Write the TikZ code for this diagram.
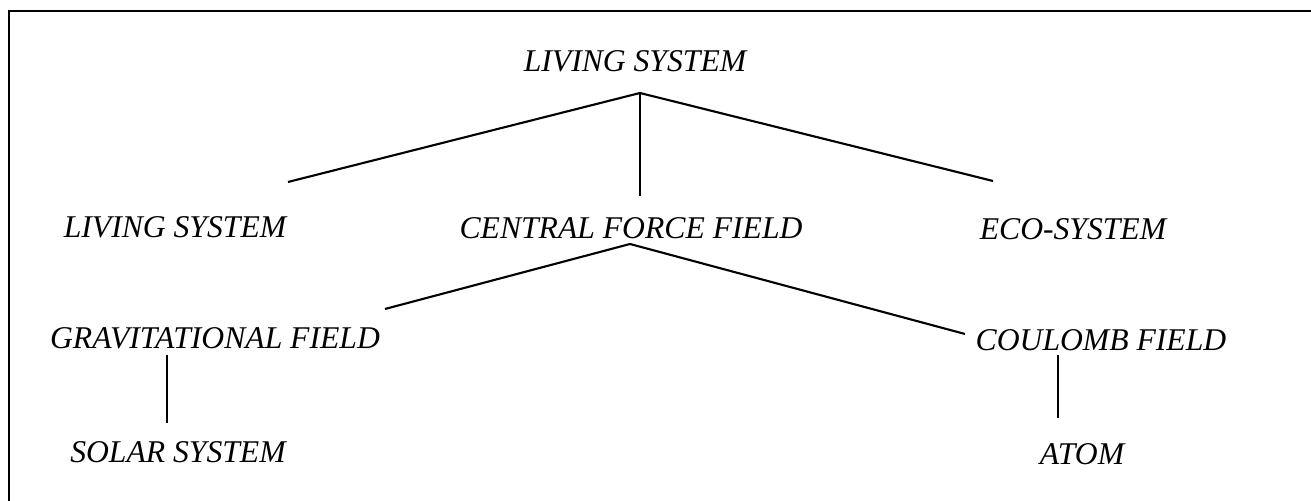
\documentclass[tikz,border=0pt]{standalone}
\usepackage{fontspec}
\setmainfont{Liberation Serif}
\usepackage{tikz}
\usetikzlibrary{positioning}

\begin{document}
\begin{tikzpicture}[
  x=0.01cm, y=-0.01cm,
  term/.style={inner sep=0pt, font=\fontsize{9}{11}\selectfont\itshape},
  link/.style={line width=0.6pt}
]
\useasboundingbox (0,0) rectangle (1311,501);
% frame, only its top and left edges fall inside the picture
\draw[line width=0.6pt] (9,540) -- (9,11) -- (1340,11);

\node[term] (root) at (635,61) {LIVING SYSTEM};
\node[term] (life) at (175,227) {LIVING SYSTEM};
\node[term] (cff) at (631,228) {CENTRAL FORCE FIELD};
\node[term] (eco) at (1073,229) {ECO-SYSTEM};
\node[term] (grav) at (215,338) {GRAVITATIONAL FIELD};
\node[term] (coul) at (1101,340) {COULOMB FIELD};
\node[term] (solar) at (178,452) {SOLAR SYSTEM};
\node[term] (atom) at (1082,454) {ATOM};

% branching points below the parent terms
\coordinate (rootj) at (640,93);
\coordinate (cffj) at (630,244);
\coordinate (lifej) at (288,182);
\coordinate (cffin) at (640,196);
\coordinate (ecoj) at (993,181);
\coordinate (gravj) at (385,309);
\coordinate (coulj) at (965,334);
\coordinate (gravtop) at (167,355);
\coordinate (solarj) at (167,423);
\coordinate (coultop) at (1058,355);
\coordinate (atomj) at (1058,418);

\draw[link] (rootj) -- (lifej);
\draw[link] (rootj) -- (cffin);
\draw[link] (rootj) -- (ecoj);
\draw[link] (cffj) -- (gravj);
\draw[link] (cffj) -- (coulj);
\draw[link] (gravtop) -- (solarj);
\draw[link] (coultop) -- (atomj);
\end{tikzpicture}
\end{document}
